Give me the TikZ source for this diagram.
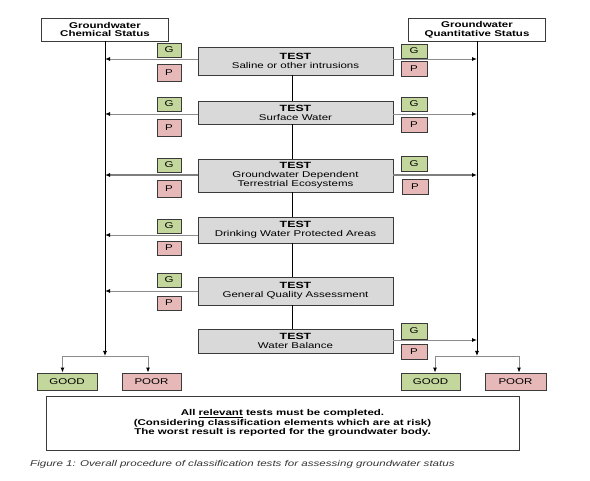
\documentclass[tikz,border=0pt]{standalone}
\usepackage{fontspec}
\setmainfont[FakeStretch=1.37]{Liberation Sans}
\usetikzlibrary{arrows.meta}
\definecolor{gfill}{HTML}{C3D69B}
\definecolor{pfill}{HTML}{E6B9B8}
\definecolor{tfill}{HTML}{D9D9D9}
\definecolor{bord}{HTML}{3A3A3A}
\definecolor{aline}{HTML}{8C8C8C}
\definecolor{captc}{HTML}{333333}
\begin{document}
\begin{tikzpicture}[x=1pt,y=-1pt,
  font=\fontsize{8.4}{9}\selectfont,
  box/.style={draw=bord, line width=0.8pt, inner sep=0pt, align=center},
  hdr/.style={box, fill=white, minimum height=23pt, font=\fontsize{8.4}{8.6}\selectfont\bfseries},
  testbox/.style={box, fill=tfill, minimum width=195pt},
  gbox/.style={box, fill=gfill, minimum height=14pt},
  pbox/.style={box, fill=pfill, minimum height=16pt},
  resbox/.style={box, minimum height=17pt, minimum width=60pt},
  arr/.style={draw=aline, line width=0.9pt, -{Latex[length=5pt,width=4pt,color=black]}},
  thickarr/.style={arr, line width=1.4pt, draw=aline!90!black},
  vline/.style={draw=black, line width=0.8pt},
  vdown/.style={vline, -{Latex[length=5pt,width=4pt]}}
]
\useasboundingbox (0,0) rectangle (590,481);

% headers
\node[hdr, minimum width=127pt] (hL) at (105,29.5) {Groundwater\\Chemical Status};
\node[hdr, minimum width=137pt] (hR) at (477,29.5) {Groundwater\\Quantitative Status};

% test boxes
\newcommand{\testhd}{{\fontsize{9}{9}\selectfont\bfseries TEST}}
\node[testbox, minimum height=28pt] (t1) at (295.5,61) {\testhd\\Saline or other intrusions};
\node[testbox, minimum height=23pt] (t2) at (295.5,112.5) {\testhd\\Surface Water};
\node[testbox, minimum height=33pt] (t3) at (295.5,175.5) {\testhd\\Groundwater Dependent\\Terrestrial Ecosystems};
\node[testbox, minimum height=26pt] (t4) at (295.5,230) {\testhd\\Drinking Water Protected Areas};
\node[testbox, minimum height=28pt] (t5) at (295.5,291) {\testhd\\General Quality Assessment};
\node[testbox, minimum height=24pt] (t6) at (295.5,341) {\testhd\\Water Balance};

% central connectors
\foreach \a/\b in {t1/t2,t2/t3,t3/t4,t4/t5,t5/t6}
  \draw[vline] ([xshift=-3.5pt]\a.south) -- ([xshift=-3.5pt]\b.north);

% left G/P
\node[gbox, minimum width=24pt] (gL1) at (169,50) {G};
\node[pbox, minimum width=24pt, minimum height=17pt] (pL1) at (169,72.5) {P};
\node[gbox, minimum width=24pt] (gL2) at (169,104) {G};
\node[pbox, minimum width=24pt, minimum height=17pt] (pL2) at (169,128) {P};
\node[gbox, minimum width=24pt] (gL3) at (169,165) {G};
\node[pbox, minimum width=24pt, minimum height=17pt] (pL3) at (169,188.5) {P};
\node[gbox, minimum width=24pt] (gL4) at (169,226) {G};
\node[pbox, minimum width=24pt, minimum height=14pt] (pL4) at (169,248) {P};
\node[gbox, minimum width=24pt] (gL5) at (169,280) {G};
\node[pbox, minimum width=24pt, minimum height=14pt] (pL5) at (169,303) {P};

% right G/P
\node[gbox, minimum width=26pt] (gR1) at (414,51) {G};
\node[pbox, minimum width=26pt, minimum height=15pt] (pR1) at (414,68.5) {P};
\node[gbox, minimum width=26pt] (gR2) at (414,104) {G};
\node[pbox, minimum width=26pt, minimum height=15pt] (pR2) at (414,124.5) {P};
\node[gbox, minimum width=26pt, minimum height=15pt] (gR3) at (414,163.5) {G};
\node[pbox, minimum width=26pt, minimum height=15pt] (pR3) at (415,186.5) {P};
\node[gbox, minimum width=26pt, minimum height=16pt] (gR6) at (414,331) {G};
\node[pbox, minimum width=26pt, minimum height=15pt] (pR6) at (414,351.5) {P};

% coordinates on the status lines
\coordinate (L1) at (105,59);
\coordinate (L2) at (105,114);
\coordinate (L3) at (105,175);
\coordinate (L4) at (105,235);
\coordinate (L5) at (105,291);
\coordinate (R1) at (477,59);
\coordinate (R2) at (477,114);
\coordinate (R3) at (477,175);
\coordinate (R6) at (477,340);
\coordinate (bL) at (105,356);
\coordinate (bR) at (477,356);

% result boxes
\node[resbox, fill=gfill] (goodL) at (67,381.5) {GOOD};
\node[resbox, fill=pfill, minimum width=59pt] (poorL) at (151.5,381.5) {POOR};
\node[resbox, fill=gfill, minimum width=59pt] (goodR) at (430.5,381.5) {GOOD};
\node[resbox, fill=pfill, minimum width=61pt] (poorR) at (515.5,381.5) {POOR};

% status lines
\draw[vdown] (hL.south) -- (bL);
\draw[vdown] (hR.south) -- (bR);

% test arrows
\draw[arr] (t1.west |- L1) -- (L1);
\draw[arr] (t2.west |- L2) -- (L2);
\draw[thickarr] (t3.west |- L3) -- (L3);
\draw[arr] (t4.west |- L4) -- (L4);
\draw[arr] (t5.west |- L5) -- (L5);
\draw[arr] (t1.east |- R1) -- (R1);
\draw[arr] (t2.east |- R2) -- (R2);
\draw[thickarr] (t3.east |- R3) -- (R3);
\draw[arr] (t6.east |- R6) -- (R6);

% branches
\draw[arr] (bL) -| ([xshift=-4.5pt]goodL.north);
\draw[arr] (bL) -| ([xshift=-3.5pt]poorL.north);
\draw[arr] (bR) -| ([xshift=4.5pt]goodR.north);
\draw[arr] (bR) -| ([xshift=3.5pt]poorR.north);

% summary
\node[box, fill=white, minimum width=473pt, minimum height=54pt,
      font=\fontsize{8.4}{9.7}\selectfont\bfseries] (sum) at (282.5,423)
  {All \underline{relevant} tests must be completed.\\(Considering classification elements which are at risk)\\The worst result is reported for the groundwater body.};

% caption
\node[anchor=west, inner sep=0pt, text=captc, font=\fontsize{8.45}{9}\selectfont\itshape] (cap) at (30,464)
  {Figure 1: Overall procedure of classification tests for assessing groundwater status};
\end{tikzpicture}
\end{document}
